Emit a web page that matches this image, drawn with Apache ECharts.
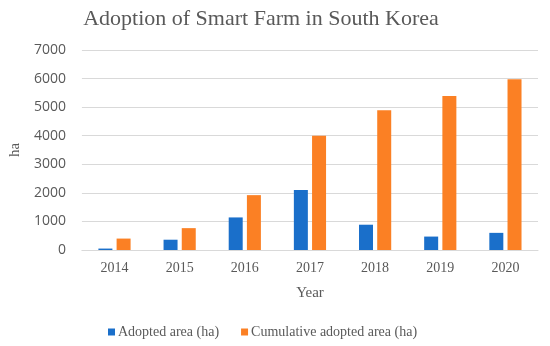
<!DOCTYPE html>
<html><head><meta charset="utf-8">
<script src="https://cdn.jsdelivr.net/npm/echarts@6/dist/echarts.min.js"></script>
<style>html,body{margin:0;padding:0;background:#fff}#c{width:550px;height:346px}</style>
</head><body><div id="c"></div>
<script>
const categories = ['2014','2015','2016','2017','2018','2019','2020'];
const adopted = [50, 360, 1140, 2100, 885, 470, 600];
const cumulative = [400, 765, 1920, 4000, 4890, 5390, 5980];
const seriesNames = ['Adopted area (ha)', 'Cumulative adopted area (ha)'];
const yTicks = [0, 1000, 2000, 3000, 4000, 5000, 6000, 7000];

const chart = echarts.init(document.getElementById('c'), null, {renderer:'canvas'});
const serif = 'Liberation Serif';
const sans = 'Open Sans';
chart.setOption({
  animation: false,
  backgroundColor: '#fff',
  textStyle: {fontFamily: serif},
  title: {
    text: 'Adoption of Smart Farm in South Korea',
    left: 256, top: 3, textAlign: 'center',
    textStyle: {fontFamily: serif, fontSize: 22, fontWeight: 400, color: '#595959'}
  },
  legend: {
    bottom: 2, left: 103,
    itemWidth: 7, itemHeight: 7, itemGap: 22,
    icon: 'rect',
    textStyle: {fontFamily: serif, fontSize: 14, color: '#595959', padding: [0,0,0,-2]},
    data: seriesNames
  },
  grid: {left: 74, right: 12, top: 50, bottom: 96, containLabel: false},
  xAxis: {
    type: 'category', data: categories,
    name: 'Year', nameLocation: 'middle', nameGap: 36,
    nameTextStyle: {fontFamily: serif, fontSize: 15, color: '#595959'},
    axisLine: {lineStyle: {color: '#d9d9d9'}},
    axisTick: {show: false},
    axisLabel: {fontFamily: serif, fontSize: 14, color: '#595959', margin: 11}
  },
  yAxis: {
    type: 'value', min: yTicks[0], max: yTicks[yTicks.length-1], interval: 1000,
    name: 'ha', nameLocation: 'middle', nameGap: 58, nameRotate: 90,
    nameTextStyle: {fontFamily: serif, fontSize: 15, color: '#595959'},
    axisLine: {show: false}, axisTick: {show: false},
    splitLine: {lineStyle: {color: '#d9d9d9', width: 1}},
    axisLabel: {fontFamily: sans, fontSize: 14, color: '#595959', margin: 16,
      formatter: v => String(v)}
  },
  series: [
    {name: seriesNames[0], type: 'bar', data: adopted, barWidth: 14, barGap: '30%',
     itemStyle: {color: '#1a6fca'}},
    {name: seriesNames[1], type: 'bar', data: cumulative, barWidth: 14,
     itemStyle: {color: '#fb8024'}}
  ]
});
</script></body></html>
